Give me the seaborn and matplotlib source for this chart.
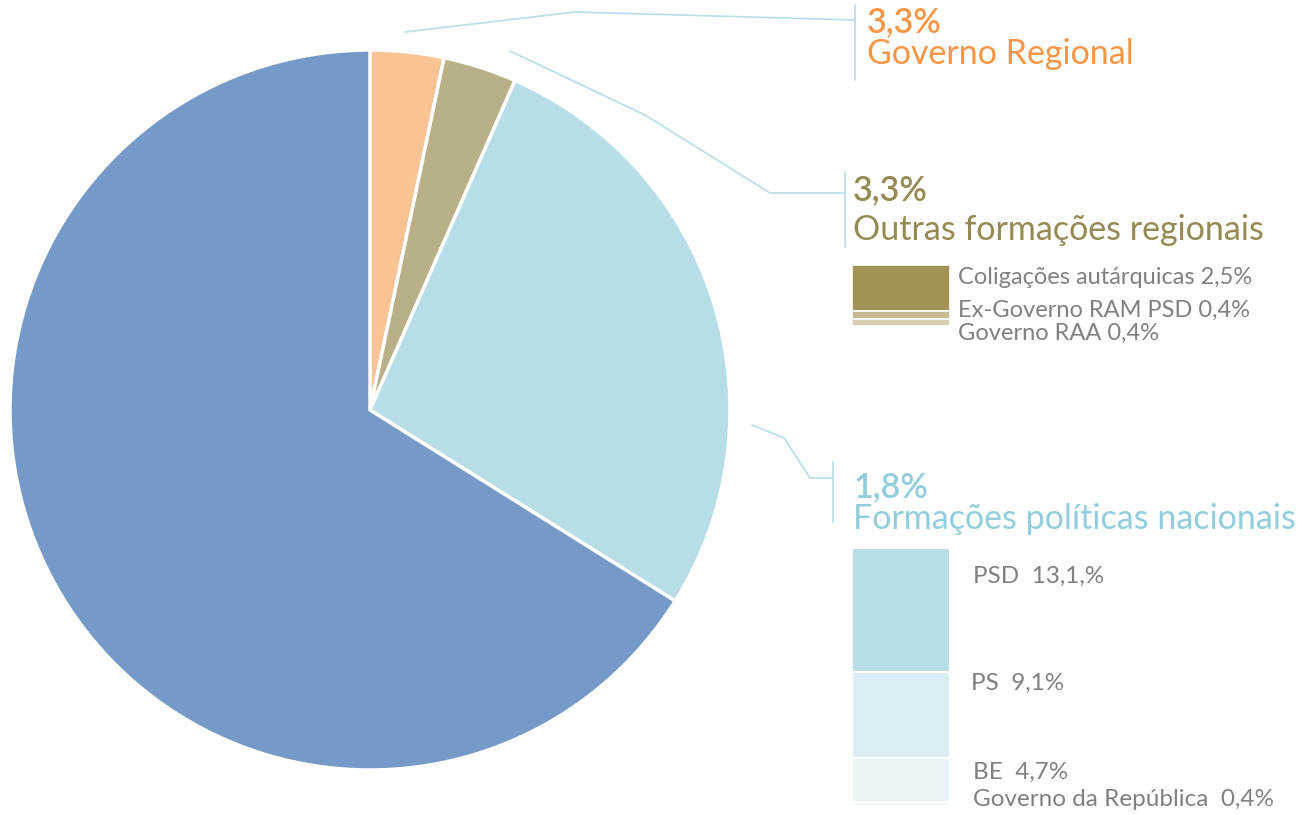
import matplotlib
matplotlib.use("Agg")
import matplotlib.pyplot as plt
import seaborn as sns

# Pie slices (percent), clockwise from 12 o'clock
slice_names = ["Governo Regional", "Outras formações regionais",
               "Formações políticas nacionais", "Restantes"]
slice_values = [3.3, 3.3, 27.3, 66.1]
slice_colors = ["#F9C393", "#B8B086", "#B7DDE7", "#769AC8"]

# Group headers
header_pcts = ["3,3%", "3,3%", "1,8%"]
header_names = ["Governo Regional", "Outras formações regionais",
                "Formações políticas nacionais"]
header_colors = ["#F79646", "#948A54", "#92CDDC"]

# Breakdown of the regional group
regional_labels = ["Coligações autárquicas 2,5%", "Ex-Governo RAM PSD 0,4%",
                   "Governo RAA 0,4%"]
regional_values = [2.5, 0.4, 0.4]
regional_colors = ["#A09355", "#C4BB8F", "#D5CFAE"]

# Breakdown of the national group
national_labels = ["PSD  13,1,%", "PS  9,1%", "BE  4,7%",
                   "Governo da República  0,4%"]
national_values = [13.1, 9.1, 4.7, 0.4]
national_colors = ["#B7DDE7", "#DAEEF3", "#EAF5F8", "#F0F8FA"]

sns.set_theme(style="white")
plt.rcParams["font.family"] = ["Lato", "DejaVu Sans"]

W, H = 1302, 815
fig = plt.figure(figsize=(W / 100, H / 100), dpi=100)


def rect(x0, y0, x1, y1):
    return [x0 / W, 1 - y1 / H, (x1 - x0) / W, (y1 - y0) / H]


# Pie
ax_pie = fig.add_axes(rect(10, 50, 730, 770))
ax_pie.pie(slice_values, colors=slice_colors, startangle=90, counterclock=False,
           wedgeprops=dict(edgecolor="white", linewidth=2.5, clip_on=False))
ax_pie.set_xlim(-1.0, 1.0)
ax_pie.set_ylim(-1.0, 1.0)
ax_pie.set_aspect("equal")
ax_pie.axis("off")

# Overlay in pixel coordinates for leaders and text
ov = fig.add_axes([0, 0, 1, 1])
ov.set_xlim(0, W)
ov.set_ylim(H, 0)
ov.axis("off")
ov.patch.set_alpha(0)

lc = "#B7DDE7"
leaders = [
    ([405, 575, 855], [32, 12, 20]),
    ([510, 645, 770, 845], [51, 115, 193, 193]),
    ([752, 784, 810, 833], [425, 438, 478, 478]),
]
for xs, ys in leaders:
    ov.plot(xs, ys, color=lc, lw=1.2)
ov.plot([855, 855], [5, 80], color=lc, lw=1.2)
ov.plot([845, 845], [172, 247], color=lc, lw=1.2)
ov.plot([833, 833], [462, 522], color=lc, lw=1.2)

header_pos = [(867, 22, 54), (853, 190, 230), (853, 487, 519)]
for (x, yp, yn), p, n, c in zip(header_pos, header_pcts, header_names, header_colors):
    ov.text(x, yp, p, color=c, fontsize=24.5, fontweight="semibold", va="center", ha="left")
    ov.text(x, yn, n, color=c, fontsize=24.5, va="center", ha="left")

gray = "#808080"

# Regional stacked bar
ax_r = fig.add_axes(rect(852, 265, 950, 326))
bottom = 0
for v, c in zip(regional_values, regional_colors):
    ax_r.bar(0, v, bottom=bottom, width=1, color=c, edgecolor="white", linewidth=1.2)
    bottom += v
ax_r.set_xlim(-0.5, 0.5)
ax_r.set_ylim(sum(regional_values), 0)
ax_r.axis("off")
for lab, y in zip(regional_labels, [277, 310, 333]):
    ov.text(958, y, lab, color=gray, fontsize=17, va="center", ha="left")

# National stacked bar
ax_n = fig.add_axes(rect(852, 548, 950, 806))
bottom = 0
for v, c in zip(national_values, national_colors):
    ax_n.bar(0, v, bottom=bottom, width=1, color=c, edgecolor="white", linewidth=1.5)
    bottom += v
ax_n.set_xlim(-0.5, 0.5)
ax_n.set_ylim(sum(national_values), 0)
ax_n.axis("off")
for lab, x, y in zip(national_labels, [973, 971, 973, 973], [576, 683, 772, 800]):
    ov.text(x, y, lab, color=gray, fontsize=17.5, va="center", ha="left")

fig.savefig("out.png", dpi=100, facecolor="white")
